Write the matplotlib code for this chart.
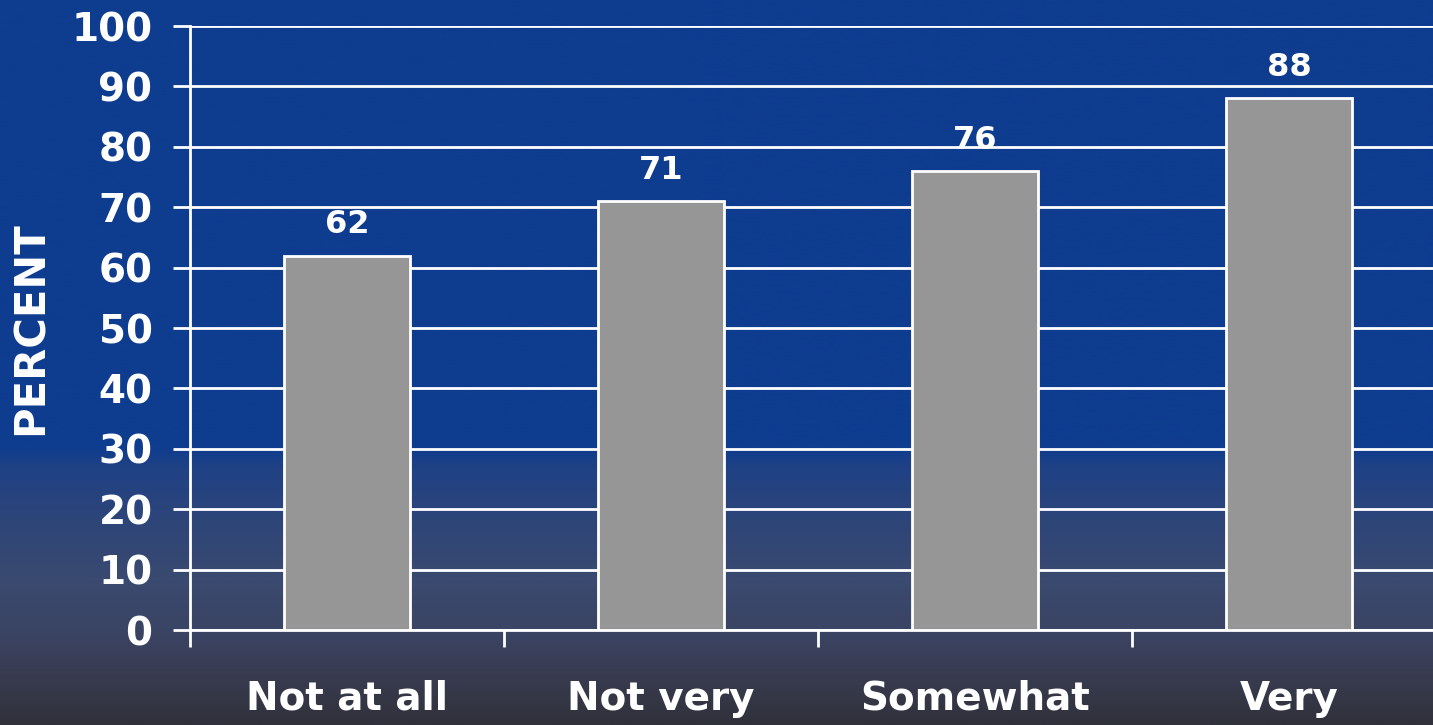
import numpy as np
import matplotlib
matplotlib.use("Agg")
import matplotlib.pyplot as plt
from matplotlib.colors import LinearSegmentedColormap

categories = ["Not at all", "Not very", "Somewhat", "Very"]
values = [62, 71, 76, 88]
yticks = [0, 10, 20, 30, 40, 50, 60, 70, 80, 90, 100]
ylabel = "PERCENT"

W, H = 1433, 725
fig = plt.figure(figsize=(W / 100, H / 100), dpi=100)

# background gradient
bg = fig.add_axes([0, 0, 1, 1], zorder=-10)
stops = [(0.0, "#0e3c8f"), (0.615, "#0e3c8f"), (0.645, "#1f4185"),
         (0.72, "#2e4579"), (0.80, "#3a4a70"), (0.88, "#3b4362"),
         (0.94, "#383b4e"), (1.0, "#30313b")]
cmap = LinearSegmentedColormap.from_list("bg", stops)
grad = np.linspace(0, 1, 512).reshape(-1, 1)
bg.imshow(grad, aspect="auto", cmap=cmap, extent=[0, 1, 0, 1], origin="upper")
bg.set_axis_off()

ax = fig.add_axes([190 / W, (H - 630) / H, (W - 190) / W, (630 - 26) / H])
ax.set_facecolor("none")

x = np.arange(len(categories))
ax.bar(x, values, width=0.4, color="#969696", edgecolor="white", linewidth=2, zorder=3)

for xi, v in zip(x, values):
    ax.annotate(str(v), (xi, v), xytext=(0, 16), textcoords="offset points",
                ha="center", va="baseline", color="white", fontsize=23,
                fontweight="bold")

ax.set_xlim(-0.5, (W - 190) / 314 - 0.5)
ax.set_ylim(0, 100)
ax.set_yticks(yticks)
ax.set_yticklabels([str(t) for t in yticks])
ax.yaxis.grid(True, color="white", linewidth=2, zorder=1)
ax.set_axisbelow(True)

ax.set_xticks([-0.5, 0.5, 1.5, 2.5])
ax.set_xticklabels([])
ax.set_xticks(x, minor=True)
ax.set_xticklabels(categories, minor=True)
ax.tick_params(axis="x", which="major", length=12, width=2, color="white", direction="out")
ax.tick_params(axis="x", which="minor", length=0, pad=36, labelsize=28,
               labelcolor="white")
ax.tick_params(axis="y", length=12, width=2, color="white", pad=15,
               labelsize=28, labelcolor="white")
for lab in ax.get_xticklabels(minor=True) + ax.get_yticklabels():
    lab.set_fontweight("bold")

for s in ["top", "right"]:
    ax.spines[s].set_visible(False)
for s in ["left", "bottom"]:
    ax.spines[s].set_color("white")
    ax.spines[s].set_linewidth(2)

ax.set_ylabel(ylabel, color="white", fontsize=30, fontweight="bold")
ax.yaxis.set_label_coords(-(190 - 31) / (W - 190), 0.5)
ax.yaxis.label.set_verticalalignment("center")

fig.savefig("out.png", dpi=100)
